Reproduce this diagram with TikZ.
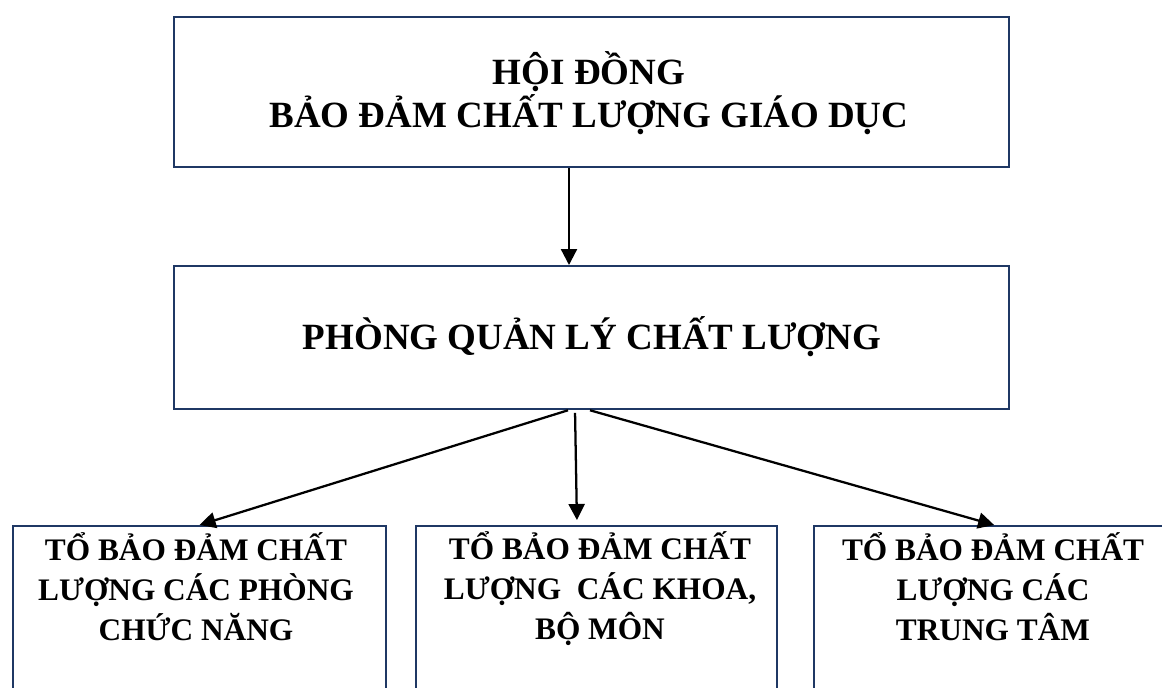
\documentclass[tikz,border=0pt]{standalone}
\usepackage{fontspec}
\setmainfont{Liberation Serif}
\usetikzlibrary{arrows.meta,calc}
\definecolor{framenavy}{HTML}{1F3864}
\begin{document}
\begin{tikzpicture}[x=0.75pt,y=-0.75pt,
  unitbox/.style={draw=framenavy, line width=1.7pt, inner sep=0pt, anchor=north west},
  bigtext/.style={align=center, inner sep=0pt, font=\fontsize{27.75}{32.6}\selectfont\bfseries},
  smalltext/.style={align=center, inner sep=0pt, font=\fontsize{23.5}{30}\selectfont\bfseries},
  arr/.style={-{Triangle[length=12pt,width=12pt]}, line width=1.7pt, black},
]
\useasboundingbox (0,0) rectangle (1162,687);
\clip (0,0) rectangle (1162,687);

% boxes
\node[unitbox, minimum width=626.25pt, minimum height=112.5pt] (council) at (173,16) {};
\node[unitbox, minimum width=626.25pt, minimum height=107.25pt] (office) at (173,265) {};
\node[unitbox, minimum width=279.75pt, minimum height=131.25pt] (teamA) at (12,525) {};
\node[unitbox, minimum width=270.75pt, minimum height=131.25pt] (teamB) at (415,525) {};
\node[unitbox, minimum width=270pt, minimum height=131.25pt] (teamC) at (813,525) {};

% labels
\node[bigtext] (councilText) at (589,93) {HỘI ĐỒNG\\BẢO ĐẢM CHẤT LƯỢNG GIÁO DỤC};
\node[bigtext] (officeText) at (592,337) {PHÒNG QUẢN LÝ CHẤT LƯỢNG};
\node[smalltext] (teamAText) at (196,587) {TỔ BẢO ĐẢM CHẤT\\LƯỢNG CÁC PHÒNG\\CHỨC NĂNG};
\node[smalltext] (teamBText) at (600,589) {TỔ BẢO ĐẢM CHẤT\\LƯỢNG\ \ CÁC KHOA,\\BỘ MÔN};
\node[smalltext] (teamCText) at (993,587) {TỔ BẢO ĐẢM CHẤT\\LƯỢNG CÁC\\TRUNG TÂM};

% connector columns
\coordinate (colTop) at (569,0);
\coordinate (colL) at (568,0);
\coordinate (colM) at (575,0);
\coordinate (colMend) at (577,0);
\coordinate (colR) at (590,0);

% connectors
\draw[arr] (council.south -| colTop) -- (office.north -| colTop);
\draw[arr] (office.south -| colL) -- (teamA.north);
\draw[arr, shorten <=2pt, shorten >=3.75pt] (office.south -| colM) -- (teamB.north -| colMend);
\draw[arr] (office.south -| colR) -- (teamC.north);
\end{tikzpicture}
\end{document}
